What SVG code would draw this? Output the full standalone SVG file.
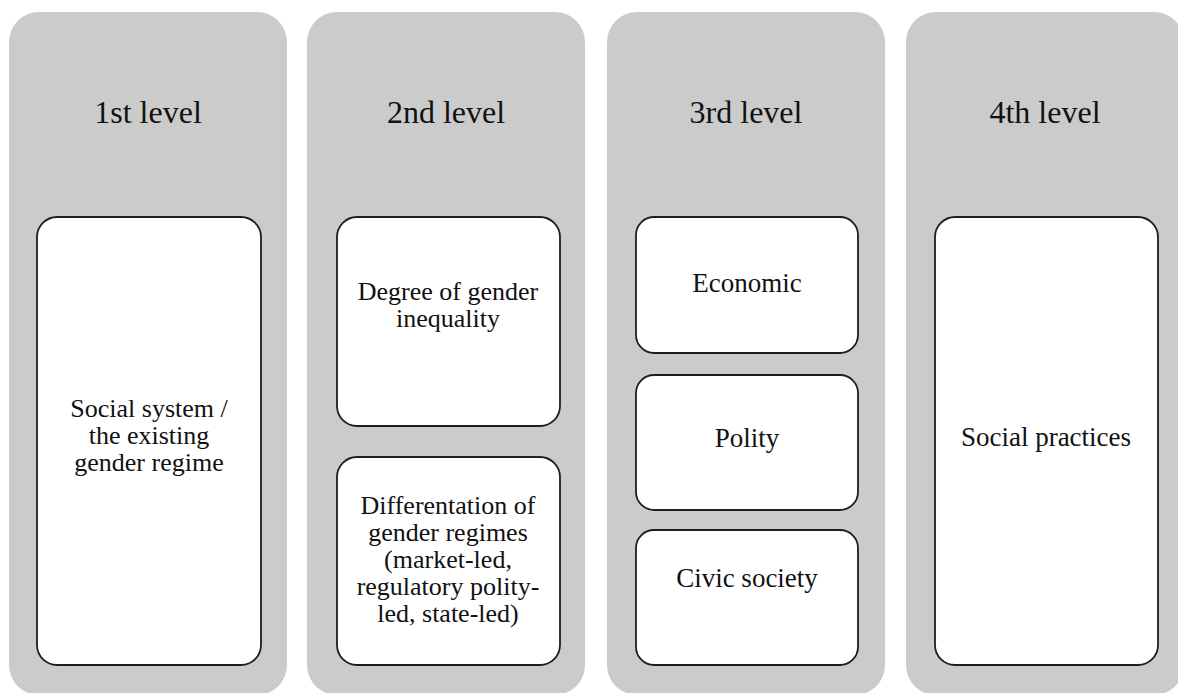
<svg xmlns="http://www.w3.org/2000/svg" width="1178" height="693" viewBox="0 0 1178 693">
  <style>
    .panel { fill: #cbcbcb; }
    .box { fill: #ffffff; stroke: #1e1e1e; stroke-width: 1.8; }
    .head { font-size: 32px; fill: #111111; text-anchor: middle; }
    .lbl { font-size: 27px; fill: #111111; text-anchor: middle; }
    .multi { font-size: 26px; }
  </style>
  <rect width="1178" height="693" fill="#ffffff"/>

  <g font-family="Liberation Serif, Times New Roman, DejaVu Serif, serif">
  <!-- level columns -->
  <g id="level1">
    <rect class="panel" x="9" y="12" width="278" height="683" rx="30"/>
    <text class="head" x="148" y="123">1st level</text>
  </g>
  <g id="level2">
    <rect class="panel" x="307" y="12" width="278" height="683" rx="30"/>
    <text class="head" x="446" y="123">2nd level</text>
  </g>
  <g id="level3">
    <rect class="panel" x="607" y="12" width="278" height="683" rx="30"/>
    <text class="head" x="746" y="123">3rd level</text>
  </g>
  <g id="level4">
    <rect class="panel" x="906" y="12" width="278" height="683" rx="30"/>
    <text class="head" x="1045" y="123">4th level</text>
  </g>

  <!-- 1st level -->
  <g id="social-system">
    <rect class="box" x="37" y="217" width="224" height="448" rx="20"/>
    <text class="lbl multi" x="149" y="417">Social system /</text>
    <text class="lbl multi" x="149" y="444">the existing</text>
    <text class="lbl multi" x="149" y="471">gender regime</text>
  </g>

  <!-- 2nd level -->
  <g id="gender-inequality">
    <rect class="box" x="337" y="217" width="223" height="209" rx="20"/>
    <text class="lbl multi" x="448" y="300">Degree of gender</text>
    <text class="lbl multi" x="448" y="327">inequality</text>
  </g>
  <g id="regime-differentiation">
    <rect class="box" x="337" y="457" width="223" height="208" rx="20"/>
    <text class="lbl multi" x="448" y="514">Differentation of</text>
    <text class="lbl multi" x="448" y="541">gender regimes</text>
    <text class="lbl multi" x="448" y="568">(market-led,</text>
    <text class="lbl multi" x="448" y="595">regulatory polity-</text>
    <text class="lbl multi" x="448" y="622">led, state-led)</text>
  </g>

  <!-- 3rd level -->
  <g id="economic">
    <rect class="box" x="636" y="217" width="222" height="136" rx="18"/>
    <text class="lbl" x="747" y="291.5">Economic</text>
  </g>
  <g id="polity">
    <rect class="box" x="636" y="375" width="222" height="135" rx="18"/>
    <text class="lbl" x="747" y="446.5">Polity</text>
  </g>
  <g id="civic-society">
    <rect class="box" x="636" y="530" width="222" height="135" rx="18"/>
    <text class="lbl" x="747" y="587">Civic society</text>
  </g>

  <!-- 4th level -->
  <g id="social-practices">
    <rect class="box" x="935" y="217" width="223" height="448" rx="20"/>
    <text class="lbl" x="1046" y="446">Social practices</text>
  </g>
  </g>

  <!-- no connectors between the columns -->
  <g id="connectors"/>
</svg>
